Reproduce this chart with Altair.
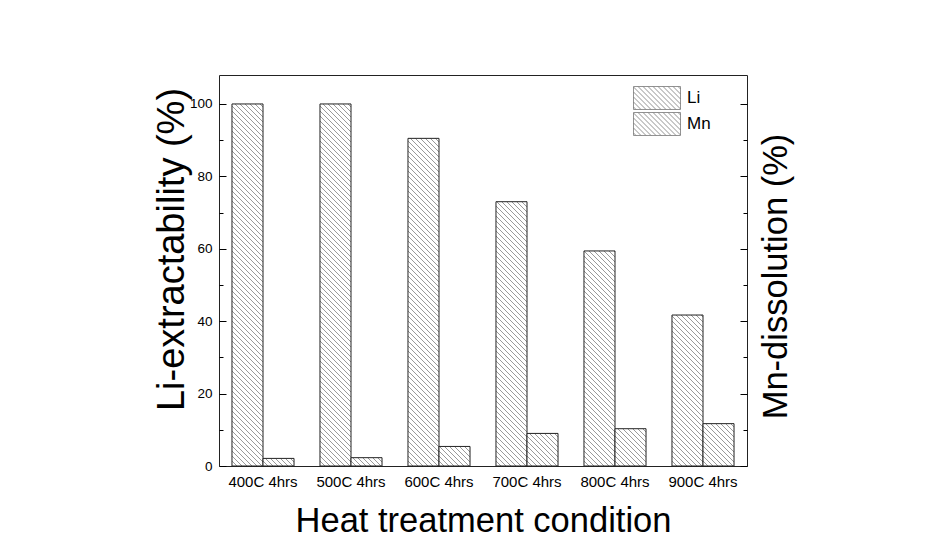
import altair as alt
import pandas as pd

# ---------------- data ----------------
conditions = ["400C 4hrs", "500C 4hrs", "600C 4hrs", "700C 4hrs", "800C 4hrs", "900C 4hrs"]
series_names = ["Li", "Mn"]
li_values = [100.0, 100.0, 90.5, 73.0, 59.4, 41.7]
mn_values = [2.1, 2.3, 5.4, 9.0, 10.3, 11.7]
y_major = [0, 20, 40, 60, 80, 100]
y_minor = [10, 30, 50, 70, 90]

# ---------------- layout constants ----------------
W, H = 528, 391
Y_MAX = 108
PAD_INNER = 0.295
FONT = "Liberation Sans, Arial, Helvetica, sans-serif"
INK = "#9a9a9a"

rows = []
for c, li, mn in zip(conditions, li_values, mn_values):
    rows.append({"cond": c, "series": "Li", "value": li})
    rows.append({"cond": c, "series": "Mn", "value": mn})
df = pd.DataFrame(rows)

step = W / len(conditions)
bar_w = step * (1 - PAD_INNER) / len(series_names)
px_per_unit = H / Y_MAX


def hatch_fill(w, h, period=5.0, thick=1.4, ink=INK, paper="#ffffff"):
    """Linear gradient with hard stops that draws '\\' hatch lines at 45 deg."""
    span = w + h
    k = span / (w * w + h * h)
    stops = [{"offset": 0, "color": paper}]
    c = -h - period
    while c < w + period:
        a = (c - thick / 2 + h) / span
        b = (c + thick / 2 + h) / span
        if b > 0 and a < 1:
            a = round(max(a, 0.0), 6)
            b = round(min(b, 1.0), 6)
            stops += [
                {"offset": a, "color": paper},
                {"offset": a, "color": ink},
                {"offset": b, "color": ink},
                {"offset": b, "color": paper},
            ]
        c += period
    stops.append({"offset": 1, "color": paper})
    return {"gradient": "linear", "x1": 0, "y1": 1,
            "x2": round(k * w, 6), "y2": round(1 - k * h, 6), "stops": stops}


def legend_path(a=0.489, period=5.0 / 23.5):
    parts = [f"M-1,{-a}H1V{a}H-1Z"]
    c = -1 - a + period / 2
    while c < 1 + a:
        y0 = max(-a, -1 - c)
        y1 = min(a, 1 - c)
        if y1 > y0:
            parts.append(f"M{round(y0 + c, 4)},{round(y0, 4)}L{round(y1 + c, 4)},{round(y1, 4)}")
        c += period
    return "".join(parts)


yscale = alt.Scale(domain=[0, Y_MAX], nice=False, zero=True)

x_enc = alt.X(
    "cond:N",
    scale=alt.Scale(domain=conditions, paddingInner=PAD_INNER, paddingOuter=PAD_INNER / 2),
    axis=alt.Axis(orient="bottom", ticks=False, domain=False, grid=False, labelAngle=0,
                  labelPadding=8, labelFontSize=15, labelFont=FONT, labelColor="#000",
                  title="Heat treatment condition", titleFont=FONT, titleFontSize=34.5,
                  titleFontWeight="normal", titleColor="#000", titlePadding=15),
)
xo_enc = alt.XOffset("series:N", scale=alt.Scale(domain=series_names, paddingInner=0, paddingOuter=0))

axis_specs = [
    (alt.Axis(orient="left", values=y_major, ticks=False, domain=False, grid=False,
              labelPadding=7, labelFontSize=13.5, labelFont=FONT, labelColor="#000",
              titleFont=FONT, titleFontSize=38, titleFontWeight="normal", titleColor="#000",
              titlePadding=-2, titleY=174), "Li-extractability (%)"),
    (alt.Axis(orient="right", offset=-W, values=y_major, ticks=True, tickSize=7, tickColor="#000",
              labels=False, domain=False, grid=False), None),
    (alt.Axis(orient="right", offset=-W, values=y_minor, ticks=True, tickSize=4, tickColor="#000",
              labels=False, domain=False, grid=False), None),
    (alt.Axis(orient="left", offset=-W, values=y_major, ticks=True, tickSize=7, tickColor="#000",
              labels=False, domain=False, grid=False), None),
    (alt.Axis(orient="left", offset=-W, values=y_minor, ticks=True, tickSize=4, tickColor="#000",
              labels=False, domain=False, grid=False), None),
    (alt.Axis(orient="right", ticks=False, labels=False, domain=False, grid=False,
              titleFont=FONT, titleFontSize=34.5, titleFontWeight="normal", titleColor="#000",
              titleAngle=270, titleBaseline="top", titlePadding=12, titleY=201), "Mn-dissolution (%)"),
]

layers = []
i = 0
for cond, li, mn in zip(conditions, li_values, mn_values):
    for s, v in zip(series_names, [li, mn]):
        h = v * px_per_unit
        if i < len(axis_specs):
            ax, ttl = axis_specs[i]
            y_enc = alt.Y("value:Q", scale=yscale, axis=ax, title=ttl)
        else:
            y_enc = alt.Y("value:Q", scale=yscale, axis=None)
        layer = (
            alt.Chart(df)
            .transform_filter((alt.datum.cond == cond) & (alt.datum.series == s))
            .mark_bar(fill=hatch_fill(bar_w, h), stroke="#222", strokeWidth=1)
            .encode(x=x_enc, xOffset=xo_enc, y=y_enc)
        )
        layers.append(layer)
        i += 1

# one single-entry legend per series, so the two rows can sit close together
legend_rows_y = [-1, 25]
for s, ly in zip(series_names, legend_rows_y):
    legend_layer = (
        alt.Chart(df)
        .transform_filter(alt.datum.series == s)
        .transform_calculate(zero="0")
        .mark_bar()
        .encode(
            x=x_enc,
            xOffset=xo_enc,
            y=alt.Y("zero:Q", scale=yscale, axis=None),
            color=alt.Color(
                "series:N",
                scale=alt.Scale(domain=[s], range=["#ffffff"]),
                legend=alt.Legend(
                    orient="none", legendX=414, legendY=ly, title=None,
                    symbolType=legend_path(), symbolSize=2209,
                    symbolStrokeColor="#777", symbolStrokeWidth=0.8, symbolOpacity=1,
                    labelFont=FONT, labelFontSize=17, labelColor="#000", labelOffset=6,
                    padding=0,
                ),
            ),
        )
    )
    layers.append(legend_layer)

chart = (
    alt.layer(*layers)
    .resolve_scale(y="independent", color="independent")
    .properties(
        width=W, height=H,
        autosize=alt.AutoSizeParams(type="none"),
        padding={"left": 211, "top": 67, "right": 170, "bottom": 80},
        background="#ffffff",
    )
    .configure_view(stroke="#222", strokeWidth=1)
)

chart.save("out.html", embed_options={"renderer": "svg", "actions": False})
